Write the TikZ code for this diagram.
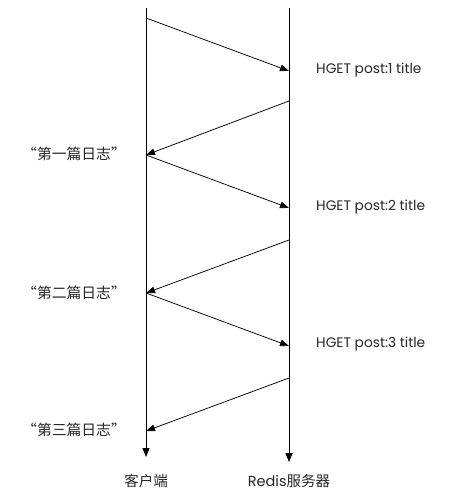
\documentclass[tikz,border=0pt]{standalone}
\usepackage{fontspec}
\setmainfont{Poppins}
\newfontfamily\cjk{Noto Sans CJK SC}
\usetikzlibrary{arrows.meta}

\tikzset{
  lifeline/.style={line width=0.9pt,-{Triangle[length=9pt,width=7pt]}},
  msg/.style={line width=0.75pt,-{Triangle[length=9pt,width=6.5pt]}},
  cmdlabel/.style={anchor=west,inner sep=0pt,text=black!85,font=\fontsize{13.8}{15}\selectfont},
  replylabel/.style={anchor=east,inner sep=0pt,text=black!85,font=\fontsize{14.8}{16}\selectfont\cjk},
  endlabel/.style={inner sep=0pt,text=black!85,font=\fontsize{14.5}{16}\selectfont}
}

\begin{document}
\begin{tikzpicture}[x=1pt,y=-1pt]
\useasboundingbox (0,0) rectangle (469,497);

% lifelines
\coordinate (ctop) at (146,8);
\coordinate (cbot) at (146,457);
\coordinate (stop) at (289,8);
\coordinate (sbot) at (289,462);
\draw[lifeline] (ctop) -- (cbot);
\draw[lifeline] (stop) -- (sbot);

% request / reply points
\coordinate (c0) at (146,18);
\coordinate (s1) at (289,71);
\coordinate (s1r) at (289,101);
\coordinate (c1) at (146,155);
\coordinate (s2) at (289,208);
\coordinate (s2r) at (289,240);
\coordinate (c2) at (146,293);
\coordinate (s3) at (289,346);
\coordinate (s3r) at (289,378);
\coordinate (c3) at (146,431);

\draw[msg] (c0) -- (s1);
\draw[msg] (s1r) -- (c1);
\draw[msg] (c1) -- (s2);
\draw[msg] (s2r) -- (c2);
\draw[msg] (c2) -- (s3);
\draw[msg] (s3r) -- (c3);

% labels
\node[cmdlabel] (hget1) at (316,70) {HGET post:1 title};
\node[cmdlabel] (hget2) at (316,207) {HGET post:2 title};
\node[cmdlabel] (hget3) at (316,344) {HGET post:3 title};
\node[replylabel] (post1) at (126,154) {“第一篇日志”};
\node[replylabel] (post2) at (126,293) {“第二篇日志”};
\node[replylabel] (post3) at (126,430) {“第三篇日志”};

\node[endlabel,font=\fontsize{14.5}{16}\selectfont\cjk] (client) at (146,481) {客户端};
\node[endlabel] (server) at (289,481) {Redis{\cjk 服务器}};
\end{tikzpicture}
\end{document}
